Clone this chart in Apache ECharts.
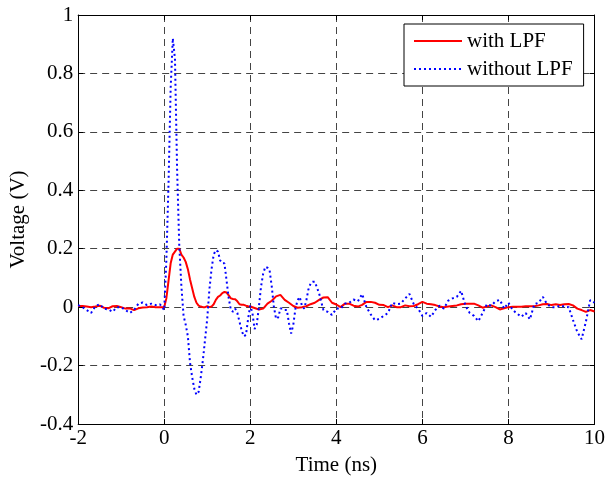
<!DOCTYPE html>
<html><head><meta charset="utf-8">
<script src="https://cdn.jsdelivr.net/npm/echarts@6/dist/echarts.min.js"></script>
<style>html,body{margin:0;padding:0;background:#fff}#c{width:608px;height:481px}</style>
</head><body><div id="c"></div>
<script>
// Tick values
const xTicks = [-2, 0, 2, 4, 6, 8, 10];
const yTicks = [-0.4, -0.2, 0, 0.2, 0.4, 0.6, 0.8, 1];

// with LPF (red)
const redT = [
 -2.0,-1.9,-1.8,-1.7,-1.6,-1.5,-1.4,-1.3,-1.2,-1.1,-1.0,-0.9,-0.8,-0.7,-0.6,-0.5,-0.4,-0.3,-0.2,-0.1,
 0.00,0.05,0.10,0.15,0.20,0.25,0.30,0.35,0.40,0.45,0.50,0.55,0.60,0.65,0.70,0.75,0.80,0.85,0.90,0.95,
 1.00,1.05,1.10,1.15,1.20,1.25,1.30,1.35,1.40,1.45,1.50,1.55,1.60,1.65,1.70,1.75,1.80,1.85,1.90,1.95,
 2.0,2.1,2.2,2.3,2.4,2.5,2.6,2.7,2.8,2.9,3.0,3.1,3.2,3.3,3.4,3.5,3.6,3.7,3.8,3.9,
 4.0,4.1,4.2,4.3,4.4,4.5,4.6,4.7,4.8,4.9,5.0,5.1,5.2,5.3,5.4,5.5,5.6,5.7,5.8,5.9,
 6.0,6.1,6.2,6.3,6.4,6.5,6.6,6.7,6.8,6.9,7.0,7.1,7.2,7.3,7.4,7.5,7.6,7.7,7.8,7.9,
 8.0,8.1,8.2,8.3,8.4,8.5,8.6,8.7,8.8,8.9,9.0,9.1,9.2,9.3,9.4,9.5,9.6,9.7,9.8,9.9,10.0
];
const redV = [
 0.004,0.004,0.002,0.0,0.002,0.005,-0.002,-0.004,0.003,0.004,0.0,-0.005,-0.004,-0.01,-0.004,-0.001,0.0,0.002,0.0,0.0,
 0.0,0.03,0.09,0.15,0.18,0.19,0.2,0.2,0.18,0.17,0.155,0.13,0.095,0.065,0.035,0.015,0.005,0.002,0.0,0.0,
 0.003,0.0,0.002,0.01,0.025,0.035,0.04,0.048,0.052,0.05,0.04,0.03,0.028,0.027,0.02,0.01,0.008,0.008,0.005,0.003,
 0.002,-0.003,-0.008,-0.005,0.012,0.022,0.037,0.042,0.025,0.015,0.004,-0.002,0.0,0.003,0.01,0.015,0.025,0.033,0.034,0.015,
 0.009,0.0,0.012,0.012,0.005,0.002,0.008,0.018,0.018,0.015,0.008,0.007,0.0,0.006,0.0,0.0,0.006,0.003,0.004,0.01,
 0.018,0.012,0.01,0.007,0.002,0.0,0.002,0.004,0.006,0.01,0.012,0.012,0.012,0.006,-0.002,0.002,0.006,0.0,-0.008,-0.004,
 0.0,0.001,0.001,0.001,0.003,0.003,0.003,0.006,0.01,0.011,0.007,0.01,0.007,0.01,0.011,0.006,-0.005,-0.01,-0.016,-0.01,-0.015
];

// without LPF (blue)
const blueT = [
 -2.0,-1.9,-1.8,-1.7,-1.6,-1.5,-1.4,-1.3,-1.2,-1.1,-1.0,-0.9,-0.8,-0.7,-0.6,-0.5,-0.4,-0.3,-0.2,-0.1,
 0.00,0.05,0.10,0.15,0.20,0.25,0.30,0.35,0.40,0.45,0.50,0.55,0.60,0.65,0.70,0.75,0.80,0.85,0.90,0.95,
 1.00,1.05,1.10,1.15,1.20,1.25,1.30,1.35,1.40,1.45,1.50,1.55,1.60,1.65,1.70,1.75,1.80,1.85,1.90,1.95,
 2.00,2.05,2.10,2.15,2.20,2.25,2.30,2.35,2.40,2.45,2.50,2.55,2.60,2.65,2.70,2.75,2.80,2.85,2.90,2.95,
 3.00,3.05,3.10,3.15,3.20,3.25,3.30,3.35,3.40,3.45,
 3.5,3.6,3.7,3.8,3.9,4.0,4.1,4.2,4.3,4.4,4.5,4.6,4.7,4.8,4.9,5.0,5.1,5.2,5.3,5.4,5.5,5.6,5.7,5.8,5.9,
 6.0,6.1,6.2,6.3,6.4,6.5,6.6,6.7,6.8,6.9,7.0,7.1,7.2,7.3,7.4,7.5,7.6,7.7,7.8,7.9,
 8.0,8.1,8.2,8.3,8.4,8.5,8.6,8.7,8.8,8.9,9.0,9.1,9.2,9.3,9.4,9.5,9.6,9.7,9.8,9.9,10.0
];
const blueV = [
 0.007,0.0,-0.01,-0.02,0.003,0.01,-0.005,-0.008,-0.016,0.0,0.0,-0.01,-0.02,-0.01,0.012,0.016,0.007,0.012,0.007,0.01,
 -0.01,0.16,0.42,0.75,0.92,0.85,0.47,0.21,0.07,-0.03,-0.06,-0.1,-0.19,-0.24,-0.28,-0.30,-0.29,-0.24,-0.18,-0.11,
 -0.04,0.06,0.13,0.18,0.195,0.19,0.16,0.15,0.15,0.09,0.03,-0.01,-0.016,-0.005,-0.02,-0.05,-0.08,-0.10,-0.095,-0.04,
 0.005,-0.02,-0.075,-0.06,0.0,0.07,0.115,0.138,0.135,0.125,0.07,0.0,-0.04,-0.035,-0.005,-0.005,-0.01,-0.01,-0.055,-0.09,
 -0.06,-0.005,0.024,0.035,0.005,-0.005,0.02,0.06,0.08,0.087,
 0.087,0.047,-0.01,-0.016,-0.027,-0.005,-0.005,0.012,0.015,0.026,0.02,0.045,0.0,-0.025,-0.045,-0.04,-0.03,-0.02,0.015,0.01,0.012,0.03,0.045,0.01,-0.005,
 -0.03,-0.02,-0.033,-0.01,0.005,-0.005,0.022,0.03,0.035,0.056,0.005,-0.02,-0.03,-0.048,-0.02,0.01,0.005,0.02,0.025,-0.005,
 0.015,-0.01,-0.022,-0.033,-0.02,-0.042,0.01,0.015,0.035,0.01,0.0,0.0,0.005,0.002,0.0,-0.044,-0.085,-0.11,-0.05,0.024,0.015
];

const FONT = 'Liberation Serif';
const pair = (t, v) => t.map((x, i) => [x, v[i]]);

const chart = echarts.init(document.getElementById('c'), null, {renderer: 'canvas'});
const baseAxis = {
  type: 'value',
  axisLine: {show: true, onZero: false, lineStyle: {color: '#000', width: 1}},
  axisTick: {show: true, inside: true, length: 5, lineStyle: {color: '#000'}},
  splitLine: {show: false},
  axisLabel: {show: false}
};
chart.setOption({
  backgroundColor: '#fff',
  animation: false,
  grid: {left: 76, right: 11, top: 15, bottom: 56, containLabel: false},
  xAxis: [
    Object.assign({}, baseAxis, {
      position: 'bottom', min: xTicks[0], max: xTicks[xTicks.length - 1], interval: 2,
      name: 'Time (ns)', nameLocation: 'middle', nameGap: 31,
      nameTextStyle: {fontFamily: FONT, fontSize: 21, color: '#000'},
      axisLabel: {show: true, margin: 4, fontFamily: FONT, fontSize: 21, color: '#000'},
      splitLine: {show: true, lineStyle: {color: '#444', width: 1, type: [7, 5]}}
    }),
    Object.assign({}, baseAxis, {
      position: 'top', min: xTicks[0], max: xTicks[xTicks.length - 1], interval: 2
    })
  ],
  yAxis: [
    Object.assign({}, baseAxis, {
      position: 'left', min: yTicks[0], max: yTicks[yTicks.length - 1], interval: 0.2,
      name: 'Voltage (V)', nameLocation: 'middle', nameGap: 48,
      nameTextStyle: {fontFamily: FONT, fontSize: 21, color: '#000'},
      axisLabel: {show: true, margin: 5, fontFamily: FONT, fontSize: 21, color: '#000'},
      splitLine: {show: true, lineStyle: {color: '#444', width: 1, type: [7, 5]}}
    }),
    Object.assign({}, baseAxis, {
      position: 'right', min: yTicks[0], max: yTicks[yTicks.length - 1], interval: 0.2
    })
  ],
  legend: {
    orient: 'vertical', left: 404, top: 24,
    backgroundColor: '#fff', borderColor: '#000', borderWidth: 1, borderRadius: 0,
    padding: [6, 11, 6, 9], itemGap: 6, itemWidth: 48, itemHeight: 14,
    itemStyle: {opacity: 0},
    textStyle: {fontFamily: FONT, fontSize: 21, color: '#000', lineHeight: 22},
    data: ['with LPF', 'without LPF']
  },
  series: [
    {
      name: 'with LPF', type: 'line', data: pair(redT, redV),
      showSymbol: false, symbol: 'none',
      lineStyle: {color: '#ff0000', width: 2}, itemStyle: {color: '#ff0000'}
    },
    {
      name: 'without LPF', type: 'line', data: pair(blueT, blueV),
      showSymbol: false, symbol: 'none',
      lineStyle: {color: '#0000ff', width: 2, type: [2, 3]}, itemStyle: {color: '#0000ff'}
    }
  ]
});
</script>
</body></html>
